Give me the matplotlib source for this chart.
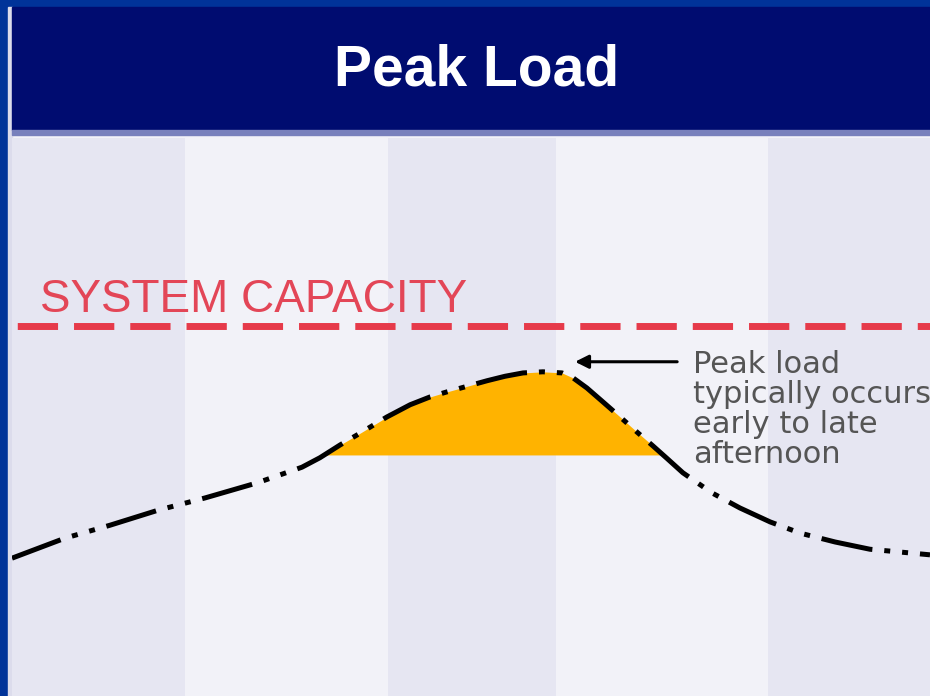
import matplotlib
matplotlib.use("Agg")
import matplotlib.pyplot as plt
import numpy as np

plt.rcParams['lines.scale_dashes'] = False

# ---- data (hour of day vs load %) ----
hours = [0.00, 1.39, 2.56, 3.82, 5.05, 6.41, 7.58, 8.05, 8.58, 9.10, 9.80, 10.41,
         10.93, 11.37, 11.79, 12.42, 12.89, 13.36, 13.88, 14.38, 14.67, 15.03,
         15.45, 15.90, 16.34, 16.76, 17.12, 17.54, 18.30, 19.03, 19.82, 20.60,
         21.52, 22.43, 23.22, 24.00]
load = [24.7, 28.3, 30.6, 33.3, 35.5, 38.2, 41.0, 42.7, 45.0, 47.1, 50.0, 52.2,
        53.6, 54.5, 55.3, 56.5, 57.3, 57.9, 58.1, 57.9, 57.0, 55.2,
        52.7, 50.0, 47.3, 44.8, 42.6, 40.0, 36.4, 33.7, 31.2, 29.2,
        27.6, 26.3, 25.8, 25.3]
capacity = 66.3
peak_threshold = 43.2
band_edges = [0, 4.52, 9.83, 14.22, 19.76, 24]
title = "Peak Load"
capacity_label = "SYSTEM CAPACITY"
note_lines = ["Peak load", "typically occurs", "early to late", "afternoon"]

W, H = 930, 696
fig = plt.figure(figsize=(W / 100, H / 100), dpi=100)

# background / frame axes in pixel units
bg = fig.add_axes([0, 0, 1, 1])
bg.set_xlim(0, W)
bg.set_ylim(H, 0)
bg.axis('off')
bg.add_patch(plt.Rectangle((0, 0), W, H, color='#f2f2f8', zorder=0))
bg.add_patch(plt.Rectangle((0, 0), 8, H, color='#003399', zorder=1))
bg.add_patch(plt.Rectangle((0, 0), W, 7, color='#003399', zorder=1))
bg.add_patch(plt.Rectangle((8, 7), 4, H, color='#dcdcec', zorder=1))
bg.add_patch(plt.Rectangle((12, 7), W - 12, 123, color='#000c70', zorder=2))
bg.add_patch(plt.Rectangle((12, 130), W - 12, 5, color='#7880bc', zorder=2))
bg.text(477, 70, title, color='white', fontsize=41, fontweight='bold',
        family='Liberation Sans', ha='center', va='center', zorder=3)

# chart axes
ax = fig.add_axes([12 / W, 0, (W - 12) / W, (H - 138) / H])
ax.set_xlim(0, 24)
ax.set_ylim(0, 100)
ax.axis('off')
band_colors = ['#e6e6f2', '#f2f2f8']
for i in range(len(band_edges) - 1):
    ax.axvspan(band_edges[i], band_edges[i + 1], color=band_colors[i % 2], lw=0, zorder=0)

x = np.array(hours)
y = np.array(load)
ax.fill_between(x, peak_threshold, y, where=y >= peak_threshold, interpolate=True,
                color='#ffb300', lw=0, zorder=2)

ln, = ax.plot(x, y, color='black', lw=3.6, solid_capstyle='butt',
              dash_capstyle='butt', solid_joinstyle='round', zorder=3)
ln.set_linestyle((0, (37.4, 8.6, 4.3, 8.6, 4.3, 8.6)))

cap, = ax.plot([0, 24], [capacity, capacity], color='#e63a4a', lw=5,
               dash_capstyle='butt', zorder=3)
cap.set_linestyle((36.7, (29, 11.5)))

ax.text(0.73, 68.8, capacity_label, color='#e34657', fontsize=33,
        family='Liberation Sans', ha='left', va='baseline', zorder=4)

ax.annotate('', xy=(14.72, 59.9), xytext=(17.39, 59.9),
            arrowprops=dict(arrowstyle='-|>', lw=2.2, color='black',
                            mutation_scale=20, shrinkA=0, shrinkB=0), zorder=4)

for i, s in enumerate(note_lines):
    ax.text(17.80, 57.9 - i * 5.38, s, color='#555555', fontsize=22,
            family='DejaVu Sans', ha='left', va='baseline', zorder=4, clip_on=True)

fig.savefig('out.png', dpi=100)
